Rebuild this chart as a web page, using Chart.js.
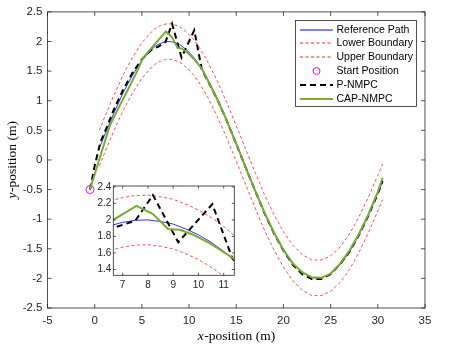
<!DOCTYPE html>
<html>
<head>
<meta charset="utf-8">
<script src="https://cdn.jsdelivr.net/npm/chart.js@4.4.1/dist/chart.umd.min.js"></script>
<style>
html, body { margin: 0; padding: 0; background: #fff; }
#wrap { position: relative; width: 455px; height: 349px; }
#main { position: absolute; left: 0; top: 0; }
#inset { position: absolute; left: 88px; top: 178px; }
</style>
</head>
<body>
<div id="wrap">
<canvas id="main" width="455" height="349"></canvas>
<canvas id="inset" width="152" height="116"></canvas>
</div>
<script>
// Reference path and the two boundaries (same x positions)
const refX = [0.5, 1, 2, 3, 4, 5, 6, 6.5, 7, 7.5, 8, 8.5, 9, 9.5, 10, 10.5, 11, 11.5, 12,
  13, 14, 15, 16, 17, 18, 19, 20, 21, 22, 23, 24, 25, 26, 27, 28, 29, 30, 30.5];
const refY = [0.20, 0.40, 0.78, 1.13, 1.43, 1.68, 1.86, 1.93, 1.97, 1.995, 2.00, 1.98, 1.95, 1.89, 1.82, 1.73, 1.62, 1.49, 1.35,
  1.03, 0.67, 0.28, -0.12, -0.51, -0.89, -1.22, -1.51, -1.74, -1.90, -1.99, -1.99, -1.92, -1.77, -1.55, -1.26, -0.93, -0.56, -0.37];
const upperY = [0.50, 0.70, 1.08, 1.43, 1.73, 1.98, 2.16, 2.23, 2.27, 2.295, 2.30, 2.28, 2.25, 2.19, 2.12, 2.03, 1.92, 1.79, 1.65,
  1.33, 0.97, 0.58, 0.18, -0.21, -0.59, -0.92, -1.21, -1.44, -1.60, -1.69, -1.69, -1.62, -1.47, -1.25, -0.96, -0.63, -0.26, -0.07];
const lowerY = [-0.10, 0.10, 0.48, 0.83, 1.13, 1.38, 1.56, 1.63, 1.67, 1.695, 1.70, 1.68, 1.65, 1.59, 1.52, 1.43, 1.32, 1.19, 1.05,
  0.73, 0.37, -0.02, -0.42, -0.81, -1.19, -1.52, -1.81, -2.04, -2.20, -2.29, -2.29, -2.22, -2.07, -1.85, -1.56, -1.23, -0.86, -0.67];

// P-NMPC trajectory
const pX = [-0.5, 0.0, 0.6, 1.2, 2.0, 3.0, 4.0, 5.0, 6.0, 6.7, 7.5, 8.2, 9.2, 10.55, 11.35,
  12, 13, 14, 15, 16, 17, 18, 19, 20, 21, 22, 23, 24, 25, 26, 27, 28, 29, 30, 30.5];
const pY = [-0.5, -0.1, 0.3, 0.52, 0.84, 1.18, 1.47, 1.70, 1.86, 1.91, 1.99, 2.30, 1.73, 2.19, 1.53,
  1.33, 1.02, 0.66, 0.27, -0.13, -0.52, -0.90, -1.24, -1.53, -1.77, -1.93, -2.01, -2.01, -1.93, -1.76, -1.55, -1.27, -0.94, -0.57, -0.35];

// CAP-NMPC trajectory
const capX = [-0.5, 1.6, 2.5, 3.5, 4.5, 5.1, 7.55, 8.2, 8.8, 9.25, 9.8, 10.5, 11.4,
  12, 13, 14, 15, 16, 17, 18, 19, 20, 21, 22, 23, 24, 25, 26, 27, 28, 29, 30, 30.5];
const capY = [-0.5, 0.58, 0.87, 1.18, 1.50, 1.72, 2.17, 2.07, 1.89, 1.88, 1.82, 1.71, 1.53,
  1.34, 1.02, 0.66, 0.27, -0.13, -0.52, -0.89, -1.23, -1.52, -1.75, -1.90, -1.98, -1.99, -1.92, -1.75, -1.53, -1.25, -0.92, -0.54, -0.30];

const startX = [-0.5];
const startY = [-0.5];

const xTicks = [-5, 0, 5, 10, 15, 20, 25, 30, 35];
const yTicks = [-2.5, -2, -1.5, -1, -0.5, 0, 0.5, 1, 1.5, 2, 2.5];
const insetXTicks = [7, 8, 9, 10, 11];
const insetYTicks = [1.4, 1.6, 1.8, 2.0, 2.2, 2.4];

const legendLabels = ['Reference Path', 'Lower Boundary', 'Upper Boundary', 'Start Position', 'P-NMPC', 'CAP-NMPC'];

const axisColor = '#262626';
const blue = '#0000ff', red = '#ff2020', magenta = '#ff00ff', black = '#000000', green = '#77ac30';
const fmt = v => String(Math.round(v * 10) / 10);
const pts = (xs, ys) => xs.map((x, i) => ({ x: x, y: ys[i] }));

function makeDatasets() {
  return [
    { label: legendLabels[0], data: pts(refX, refY), showLine: true, borderColor: blue, borderWidth: 0.8, pointRadius: 0, order: 5 },
    { label: legendLabels[1], data: pts(refX, lowerY), showLine: true, borderColor: red, borderWidth: 0.8, borderDash: [3, 2.5], pointRadius: 0, order: 4 },
    { label: legendLabels[2], data: pts(refX, upperY), showLine: true, borderColor: red, borderWidth: 0.8, borderDash: [3, 2.5], pointRadius: 0, order: 3 },
    { label: legendLabels[3], data: pts(startX, startY), showLine: false, borderColor: magenta, backgroundColor: 'rgba(0,0,0,0)', borderWidth: 1, pointRadius: 4, order: 2 },
    { label: legendLabels[4], data: pts(pX, pY), showLine: true, borderColor: black, borderWidth: 2, borderDash: [6, 4], pointRadius: 0, order: 1 },
    { label: legendLabels[5], data: pts(capX, capY), showLine: true, borderColor: green, borderWidth: 2, pointRadius: 0, order: 0 }
  ];
}

// legend sample styles, in legend order
const legendStyles = [
  { color: blue, width: 1, dash: [] },
  { color: red, width: 1, dash: [3, 2.5] },
  { color: red, width: 1, dash: [3, 2.5] },
  { color: magenta, marker: true },
  { color: black, width: 2, dash: [6, 4] },
  { color: green, width: 2, dash: [] }
];

// box round the plot area with inward tick marks
function framePlugin(tickLen, fillBg) {
  return {
    id: 'frame',
    beforeDatasetsDraw(chart) {
      if (!fillBg) return;
      const a = chart.chartArea, c = chart.ctx;
      c.save();
      c.fillStyle = '#fff';
      c.fillRect(a.left, a.top, a.right - a.left, a.bottom - a.top);
      c.restore();
    },
    afterDatasetsDraw(chart) {
      const a = chart.chartArea, c = chart.ctx;
      const xs = chart.scales.x, ys = chart.scales.y;
      c.save();
      c.strokeStyle = axisColor;
      c.lineWidth = 0.8;
      c.beginPath();
      xs.ticks.forEach(t => {
        const px = xs.getPixelForValue(t.value);
        c.moveTo(px, a.bottom); c.lineTo(px, a.bottom - tickLen);
        c.moveTo(px, a.top); c.lineTo(px, a.top + tickLen);
      });
      ys.ticks.forEach(t => {
        const py = ys.getPixelForValue(t.value);
        c.moveTo(a.left, py); c.lineTo(a.left + tickLen, py);
        c.moveTo(a.right, py); c.lineTo(a.right - tickLen, py);
      });
      c.stroke();
      c.strokeRect(a.left, a.top, a.right - a.left, a.bottom - a.top);
      c.restore();
    }
  };
}

// legend box and the axis titles of the main plot
const decorPlugin = {
  id: 'decor',
  afterDraw(chart) {
    const c = chart.ctx, a = chart.chartArea;
    c.save();
    // legend
    const bx = 295.5, by = 20.5, bw = 121, bh = 86;
    c.fillStyle = '#fff';
    c.fillRect(bx, by, bw, bh);
    c.strokeStyle = axisColor;
    c.lineWidth = 0.8;
    c.strokeRect(bx, by, bw, bh);
    c.font = '10.5px "Liberation Sans", Arial, sans-serif';
    c.textBaseline = 'middle';
    c.textAlign = 'left';
    legendLabels.forEach((label, i) => {
      const st = legendStyles[i];
      const y = Math.round(29.5 + i * 13.9);
      c.save();
      c.strokeStyle = st.color;
      if (st.marker) {
        c.lineWidth = 1;
        c.beginPath();
        c.arc(316.5, y, 3.5, 0, Math.PI * 2);
        c.stroke();
      } else {
        c.lineWidth = st.width;
        c.setLineDash(st.dash);
        c.beginPath();
        c.moveTo(300, y); c.lineTo(333, y);
        c.stroke();
      }
      c.restore();
      c.fillStyle = '#000';
      c.fillText(label, 336.5, y);
    });

    // axis titles: italic variable then plain text
    const it = 'italic 13.5px "Liberation Serif", "Times New Roman", serif';
    const rm = '13.5px "Liberation Serif", "Times New Roman", serif';
    function mixed(x0, y0, v, rest) {
      c.font = it; const w1 = c.measureText(v).width;
      c.font = rm; const w2 = c.measureText(rest).width;
      const s = x0 - (w1 + w2) / 2;
      c.fillStyle = '#000';
      c.textAlign = 'left';
      c.textBaseline = 'middle';
      c.font = it; c.fillText(v, s, y0);
      c.font = rm; c.fillText(rest, s + w1 + 0.5, y0);
    }
    mixed((a.left + a.right) / 2, 336, 'x', '-position (m)');
    c.save();
    c.translate(12, (a.top + a.bottom) / 2);
    c.rotate(-Math.PI / 2);
    mixed(0, 0, 'y', '-position (m)');
    c.restore();
    c.restore();
  }
};

function scaleOpts(min, max, tickList, fontSize, pad, fit) {
  return {
    type: 'linear', min: min, max: max,
    grid: { display: false, drawTicks: false },
    border: { display: false },
    ticks: { padding: pad, color: axisColor, autoSkip: false, maxRotation: 0,
      font: { family: '"Liberation Sans", Arial, sans-serif', size: fontSize }, callback: fmt },
    afterBuildTicks: s => { s.ticks = tickList.map(v => ({ value: v })); },
    afterFit: fit
  };
}

new Chart(document.getElementById('main'), {
  type: 'scatter',
  data: { datasets: makeDatasets() },
  options: {
    responsive: false, animation: false, devicePixelRatio: 1,
    layout: { padding: { left: 0, right: 30, top: 11, bottom: 0 } },
    plugins: { legend: { display: false }, tooltip: { enabled: false } },
    elements: { line: { tension: 0 } },
    scales: {
      x: scaleOpts(-5, 35, xTicks, 11.5, 6, s => { s.height = 41; }),
      y: scaleOpts(-2.5, 2.5, yTicks, 11.5, 5, s => { s.width = 47.5; })
    }
  },
  plugins: [framePlugin(4, false), decorPlugin]
});

new Chart(document.getElementById('inset'), {
  type: 'scatter',
  data: { datasets: makeDatasets() },
  options: {
    responsive: false, animation: false, devicePixelRatio: 1,
    layout: { padding: { left: 0, right: 5.7, top: 7, bottom: 0 } },
    plugins: { legend: { display: false }, tooltip: { enabled: false } },
    elements: { line: { tension: 0 } },
    scales: {
      x: scaleOpts(6.63, 11.42, insetXTicks, 10, 4, s => { s.height = 18.7; }),
      y: scaleOpts(1.33, 2.41, insetYTicks, 10, 2, s => { s.width = 25.3; })
    }
  },
  plugins: [framePlugin(2.5, true)]
});
</script>
</body>
</html>
